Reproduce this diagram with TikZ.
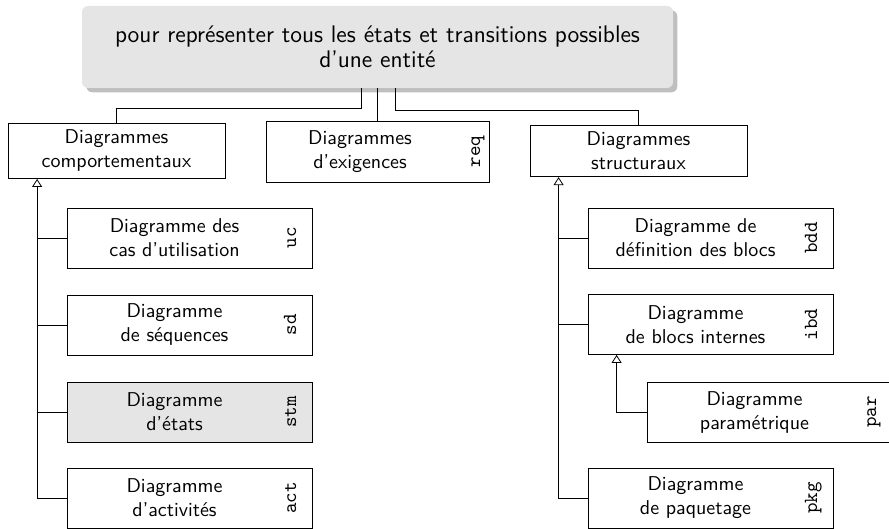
\documentclass[tikz,border=0pt]{standalone}
\usepackage{tikz}
\usetikzlibrary{arrows.meta}
\usetikzlibrary{shadows}

\tikzset{
  diag/.style={draw, minimum width=122.5pt, minimum height=30pt},
  famille/.style={draw, align=center, minimum width=108.5pt},
  txt/.style={align=center},
  sigle/.style={rotate=90, anchor=base, font=\ttfamily},
  herite/.style={-{Triangle[open,length=4pt,width=5pt]}}
}

\begin{document}
\begin{tikzpicture}[x=0.5pt,y=-0.5pt,font=\sffamily]

            %\draw [help lines] (0,0) grid (889,529);
            \useasboundingbox (0,0) rectangle (889,529);

            \path   (377.5,47) node (but) [fill=gray!20,rounded corners=3pt,drop shadow,minimum width=295.5pt,minimum height=41pt,align=center,font=\sffamily\fontsize{12}{12.5}\selectfont] {pour représenter tous les états et transitions possibles\\d'une entité}
                    (116.5,151) node (cmp) [famille] {Diagrammes\\comportementaux}
                    (377.5,151.5) node (req) [diag,minimum width=111.5pt,minimum height=30.5pt] {}
                    (638.5,151) node (str) [famille] {Diagrammes\\structuraux}
                    (189.5,238) node (uc) [diag] {}
                    (189.5,325) node (sd) [diag] {}
                    (189.5,412) node (stm) [diag,fill=gray!20] {}
                    (189.5,498) node (act) [diag] {}
                    (710.5,238) node (bdd) [diag] {}
                    (710.5,324.5) node (ibd) [diag] {}
                    (769.5,412) node (par) [diag] {}
                    (710.5,498) node (pkg) [diag] {};

            % textes et sigles
            \path   (360,151.5) node (treq) [txt] {Diagrammes\\d'exigences}
                    (480,151.5) node (creq) [sigle] {req}
                    (174.5,238) node (tuc) [txt] {Diagramme des\\cas d'utilisation}
                    (296,238) node (cuc) [sigle] {uc}
                    (174.5,325) node (tsd) [txt] {Diagramme\\de séquences}
                    (296,325) node (csd) [sigle] {sd}
                    (174.5,412) node (tstm) [txt] {Diagramme\\d'états}
                    (296,412) node (cstm) [sigle] {stm}
                    (174.5,498) node (tact) [txt] {Diagramme\\d'activités}
                    (296,498) node (cact) [sigle] {act}
                    (695.5,238) node (tbdd) [txt] {Diagramme de\\définition des blocs}
                    (817,238) node (cbdd) [sigle] {bdd}
                    (695.5,324.5) node (tibd) [txt] {Diagramme\\de blocs internes}
                    (817,324.5) node (cibd) [sigle] {ibd}
                    (754.5,412) node (tpar) [txt] {Diagramme\\paramétrique}
                    (876,412) node (cpar) [sigle] {par}
                    (695.5,498) node (tpkg) [txt] {Diagramme\\de paquetage}
                    (817,498) node (cpkg) [sigle] {pkg};

            \draw ([xshift=-8.25pt]but.south) -- ++(0,20) -| (cmp.north);
            \draw (but.south) -- (req.north);
            \draw ([xshift=8.75pt]but.south) -- ++(0,22) -| (str.north);

            \coordinate (cmpB) at ([xshift=14.75pt]cmp.south west);
            \coordinate (strB) at ([xshift=14.5pt]str.south west);
            \coordinate (ibdB) at ([xshift=14.5pt]ibd.south west);

            \draw[herite] (act.west) -| (cmpB);
            \draw (uc.west) -- (uc.west -| cmpB);
            \draw (sd.west) -- (sd.west -| cmpB);
            \draw (stm.west) -- (stm.west -| cmpB);
            \draw[herite] (pkg.west) -| (strB);
            \draw (bdd.west) -- (bdd.west -| strB);
            \draw (ibd.west) -- (ibd.west -| strB);
            \draw[herite] (par.west) -| (ibdB);

        \end{tikzpicture}
\end{document}
